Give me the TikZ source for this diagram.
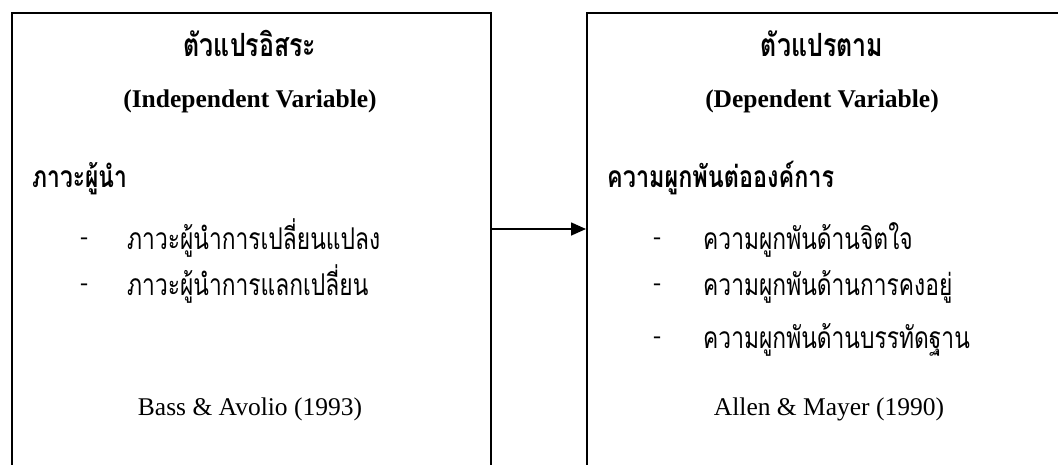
\documentclass[tikz,border=0pt]{standalone}
\usepackage{fontspec}
\setmainfont{Liberation Serif}
\newfontfamily\thai[Script=Thai]{Loma}
\usetikzlibrary{arrows.meta}
\newcommand{\narrowA}[1]{\scalebox{0.78}[1]{#1}}
\newcommand{\narrowB}[1]{\scalebox{0.76}[1]{#1}}
\begin{document}
\begin{tikzpicture}[x=1pt,y=1pt,
  box/.style={draw, line width=1.6pt, anchor=north west, inner sep=0pt, minimum height=500pt},
  head/.style={font=\thai\bfseries\fontsize{32}{36}\selectfont, anchor=base, inner sep=0pt},
  engl/.style={font=\bfseries\fontsize{25.5}{30}\selectfont, anchor=base, inner sep=0pt},
  sub/.style={font=\thai\bfseries\fontsize{30}{34}\selectfont, anchor=base west, inner sep=0pt},
  item/.style={font=\thai\fontsize{30}{34}\selectfont, anchor=base west, inner sep=0pt},
  bullet/.style={font=\fontsize{24}{28}\selectfont, anchor=base, inner sep=0pt, yshift=5pt},
  cite/.style={font=\fontsize{25.5}{30}\selectfont, anchor=base, inner sep=0pt},
  conn/.style={line width=1.6pt, -{Triangle[length=15pt,width=13pt]}}]
\useasboundingbox (0,0) rectangle (1058,-464);
\clip (0,0) rectangle (1058,-464);
\node[box, minimum width=479pt] (L) at (11,-12) {};
\node[box, minimum width=500pt] (R) at (586,-12) {};
% left box
\node[head] (lt) at (250,-56) {\narrowA{ตัวแปรอิสระ}};
\node[engl] (le) at (250,-107) {(Independent Variable)};
\node[sub] (ls) at (32,-187) {\narrowB{ภาวะผู้นำ}};
\node[bullet] (ld1) at (84,-249) {-};
\node[item] (li1) at (127,-249) {\narrowB{ภาวะผู้นำการเปลี่ยนแปลง}};
\node[bullet] (ld2) at (84,-295) {-};
\node[item] (li2) at (127,-295) {\narrowB{ภาวะผู้นำการแลกเปลี่ยน}};
\node[cite] (lc) at (250,-415) {Bass \& Avolio (1993)};
% right box
\node[head] (rt) at (822,-56) {\narrowA{ตัวแปรตาม}};
\node[engl] (re) at (822,-107) {(Dependent Variable)};
\node[sub] (rs) at (607,-187) {\narrowA{ความผูกพันต่อองค์การ}};
\node[bullet] (rd1) at (657,-249) {-};
\node[item] (ri1) at (703,-249) {\narrowB{ความผูกพันด้านจิตใจ}};
\node[bullet] (rd2) at (657,-295) {-};
\node[item] (ri2) at (703,-295) {\narrowB{ความผูกพันด้านการคงอยู่}};
\node[bullet] (rd3) at (657,-348) {-};
\node[item] (ri3) at (703,-348) {\narrowB{ความผูกพันด้านบรรทัดฐาน}};
\node[cite] (rc) at (829,-415) {Allen \& Mayer (1990)};
% connector
\draw[conn] ([yshift=-217pt]L.north east) -- ([yshift=-217pt]R.north west);
\end{tikzpicture}
\end{document}
